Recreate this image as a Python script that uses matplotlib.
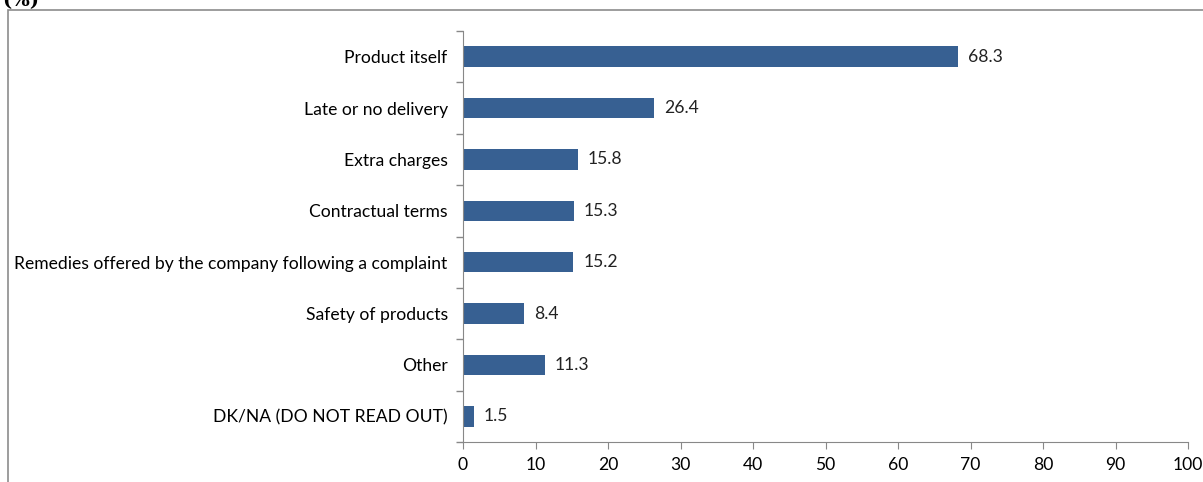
import matplotlib.pyplot as plt
from matplotlib.patches import Rectangle

categories = [
    "Product itself",
    "Late or no delivery",
    "Extra charges",
    "Contractual terms",
    "Remedies offered by the company following a complaint",
    "Safety of products",
    "Other",
    "DK/NA (DO NOT READ OUT)",
]
values = [68.3, 26.4, 15.8, 15.3, 15.2, 8.4, 11.3, 1.5]
xticks = list(range(0, 101, 10))

plt.rcParams['font.family'] = ['Lato', 'DejaVu Sans']

fig = plt.figure(figsize=(12.03, 4.82), dpi=100)
ax = fig.add_axes([463 / 1203, 40 / 482, 725 / 1203, 411 / 482])

n = len(categories)
pos = list(range(n))
ax.barh(pos, values, height=0.4, color='#376092')
for p, v in zip(pos, values):
    ax.text(v + 1.4, p, f"{v:.1f}", va='center', ha='left', fontsize=12.6, color='#222222')

ax.set_ylim(n - 0.5, -0.5)
ax.set_xlim(0, 100)
ax.set_xticks(xticks)
ax.set_yticks(pos)
ax.set_yticklabels(categories, fontsize=12.6)
ax.tick_params(axis='y', length=0, pad=11)
ax.set_yticks([i - 0.5 for i in range(n + 1)], minor=True)
ax.tick_params(axis='y', which='minor', length=5, color='#888888', width=1)
ax.tick_params(axis='x', length=5, color='#888888', labelsize=12.6, pad=6)

for s in ['top', 'right']:
    ax.spines[s].set_visible(False)
for s in ['left', 'bottom']:
    ax.spines[s].set_color('#888888')

# outer frame, cut at the right and bottom edge
fig.patches.append(Rectangle((8 / 1203, -0.1), 1.2, 1.1 - 10 / 482,
                             transform=fig.transFigure, fill=False,
                             edgecolor='#8c8c8c', linewidth=1.2))
fig.text(2 / 1203, 1 - 6 / 482, "(%)", family='DejaVu Serif', fontweight='bold',
         fontsize=14, va='baseline', ha='left')

fig.savefig('out.png', dpi=100)
